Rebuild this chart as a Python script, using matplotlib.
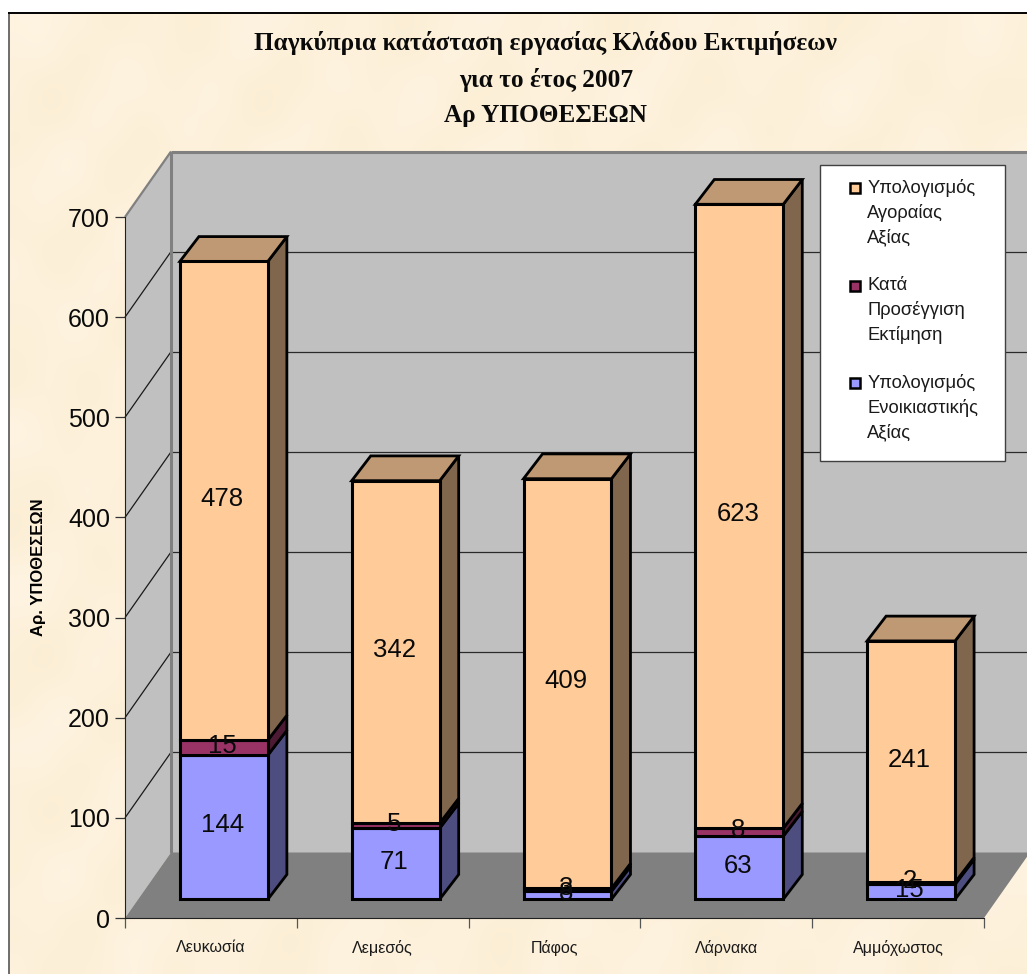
import numpy as np
import matplotlib
matplotlib.use("Agg")
import matplotlib.pyplot as plt
from matplotlib.patches import Polygon, Rectangle, Patch
from matplotlib.transforms import Affine2D
from matplotlib.legend_handler import HandlerPatch

categories = ["Λευκωσία", "Λεμεσός", "Πάφος", "Λάρνακα", "Αμμόχωστος"]
rental = [144, 71, 8, 63, 15]
approx = [15, 5, 3, 8, 2]
market = [478, 342, 409, 623, 241]
series_names = ["Υπολογισμός\nΑγοραίας\nΑξίας", "Κατά\nΠροσέγγιση\nΕκτίμηση", "Υπολογισμός\nΕνοικιαστικής\nΑξίας"]
title = "Παγκύπρια κατάσταση εργασίας Κλάδου Εκτιμήσεων\nγια το έτος 2007\nΑρ ΥΠΟΘΕΣΕΩΝ"
ylabel = "Αρ. ΥΠΟΘΕΣΕΩΝ"
yticks = [0, 100, 200, 300, 400, 500, 600, 700]

W, H = 1027, 974
plt.rcParams['font.family'] = ['Liberation Sans', 'DejaVu Sans']
fig = plt.figure(figsize=(W / 100, H / 100), dpi=100, facecolor='white')

# parchment backdrop (decorative)
bg = fig.add_axes([0, 0, 1, 1], zorder=0)
bg.set_xlim(0, W); bg.set_ylim(H, 0); bg.axis('off')
yy, xx = np.mgrid[0:H:24, 0:W:24]
tex = (np.sin(xx / 37 + 1) * np.cos(yy / 23) + np.sin(xx / 17 + yy / 29) + 0.6 * np.cos(xx / 11 - yy / 13)) / 2.6
col0 = np.array([253, 241, 219]) / 255
col1 = np.array([2.0, 4.0, 9.0]) / 255
img = np.clip(col0[None, None, :] + tex[:, :, None] * col1[None, None, :], 0, 1)
bg.imshow(img, extent=(9, W, H, 13), aspect='auto', interpolation='bicubic', zorder=0)
bg.set_xlim(0, W); bg.set_ylim(H, 0)
bg.plot([9, 9], [13, H], color='#555555', lw=1.2, zorder=1)
bg.plot([9, W], [13, 13], color='black', lw=1.4, zorder=1)

# main axes = front plane of the 3-D box
AX_W = 859
ax = fig.add_axes([125 / W, (H - 918) / H, AX_W / W, 701 / H], zorder=1)
ax.patch.set_visible(False)
ax.set_xlim(-0.5, 4.5)
ax.set_ylim(0, 700)
ax.set_autoscale_on(False)

BACK = (46, 65.5)       # depth of box in pixels
BAR_F = (13, 18.7)      # bar front offset
BAR_B = (32, 43.5)      # bar back offset
WIDTH = 0.512
ID = matplotlib.transforms.IdentityTransform()


def pt(x, y, d=(0, 0)):
    px, py = ax.transData.transform((x, y))
    return (px + d[0], py + d[1])


def poly(points, **kw):
    p = Polygon(points, closed=True, clip_on=False, **kw)
    p.set_transform(ID)
    ax.add_patch(p)
    return p


def line(a, b, **kw):
    ax.plot([a[0], b[0]], [a[1], b[1]], transform=ID,
            clip_on=False, solid_capstyle='butt', **kw)


# walls
poly([pt(-0.5, 0, BACK), pt(4.5, 0, BACK), pt(4.5, 700, BACK), pt(-0.5, 700, BACK)],
     facecolor='#C0C0C0', edgecolor='none', zorder=1)
poly([pt(-0.5, 0), pt(-0.5, 0, BACK), pt(-0.5, 700, BACK), pt(-0.5, 700)],
     facecolor='#C0C0C0', edgecolor='none', zorder=1)
poly([pt(-0.5, 0), pt(4.5, 0), pt(4.5, 0, BACK), pt(-0.5, 0, BACK)],
     facecolor='#808080', edgecolor='none', zorder=1)
for v in yticks[1:-1]:
    line(pt(-0.5, v), pt(-0.5, v, BACK), color='#1a1a1a', lw=0.9, zorder=2)
    line(pt(-0.5, v, BACK), pt(4.5, v, BACK), color='#2a2a2a', lw=0.9, zorder=2)
line(pt(-0.5, 700), pt(-0.5, 700, BACK), color='#808080', lw=1.6, zorder=2)
line(pt(-0.5, 700, BACK), pt(4.5, 700, BACK), color='#808080', lw=2.2, zorder=2)
line(pt(-0.5, 0, BACK), pt(-0.5, 700, BACK), color='#808080', lw=2.2, zorder=2)

# bars
x = np.arange(len(categories))
rental_a, approx_a, market_a = map(np.array, (rental, approx, market))
front = ax.transData + Affine2D().translate(BAR_F[0], BAR_F[1])
label_tf = ax.transData + Affine2D().translate(BAR_F[0] - 1.5, BAR_F[1] + 2.0)
stack = [
    (rental_a, np.zeros(5), '#9999FF', '#4D4D80', None),
    (approx_a, rental_a, '#993366', '#4D1A33', None),
    (market_a, rental_a + approx_a, '#FFCC99', '#7F664D', '#BF9973'),
]
for vals, base, fc, side, top in stack:
    ax.bar(x, vals, WIDTH, bottom=base, color=fc, edgecolor='black', linewidth=2.2,
           transform=front, zorder=4, clip_on=False)
    for xi, v, b in zip(x, vals, base):
        r = xi + WIDTH / 2
        l = xi - WIDTH / 2
        poly([pt(r, b, BAR_F), pt(r, b, BAR_B), pt(r, b + v, BAR_B), pt(r, b + v, BAR_F)],
             facecolor=side, edgecolor='black', linewidth=2.0, joinstyle='miter', zorder=3)
        if top:
            poly([pt(l, b + v, BAR_F), pt(r, b + v, BAR_F), pt(r, b + v, BAR_B), pt(l, b + v, BAR_B)],
                 facecolor=top, edgecolor='black', linewidth=2.0, joinstyle='miter', zorder=3)
        ax.text(xi, b + v / 2, str(v), transform=label_tf, ha='center', va='center',
                fontsize=18.5, color='#0a0a0a', zorder=6)

# axes furniture
for s in ('top', 'right'):
    ax.spines[s].set_visible(False)
ax.spines['left'].set_color('#202020')
ax.spines['bottom'].set_color('#202020')
ax.spines['left'].set_zorder(5)
ax.spines['bottom'].set_zorder(5)
ax.set_yticks(yticks)
ax.tick_params(axis='y', labelsize=18, length=7.2, width=0.9, color='#333333', pad=3.6, labelcolor='#0a0a0a')
ax.set_xticks(np.arange(-0.5, 5))
ax.set_xticklabels([])
ax.tick_params(axis='x', which='major', length=7.5, width=0.9, color='#555555')
ax.set_xticks(x, minor=True)
ax.set_xticklabels(categories, minor=True, fontsize=11.5)
ax.tick_params(axis='x', which='minor', length=0, pad=16, labelcolor='#1a1a1a')
ax.set_ylabel(ylabel, fontsize=12, fontweight='bold')
ax.yaxis.set_label_coords((46 - 125) / AX_W, 0.5)

# title
fig.suptitle(title, x=546 / W, y=1 - 31 / H, va='top', ha='center', fontsize=18.2,
             fontweight='bold', family=['Liberation Serif', 'DejaVu Serif'], linespacing=1.67, color='#0a0a0a')

# legend
ax.add_patch(Rectangle((820, H - 461), 185, 296, transform=ID,
                       facecolor='white', edgecolor='#404040', lw=1.0, zorder=7, clip_on=False))
legend_handles = [Patch(facecolor=c, edgecolor='black', linewidth=1.8) for c in ('#FFCC99', '#993366', '#9999FF')]


def first_line_square(legend, orig_handle, xdescent, ydescent, width, height, fontsize):
    return Rectangle((-xdescent, -ydescent + 18.2), 7.2, 7.2)


leg = ax.legend(legend_handles, series_names, loc='upper left',
                bbox_to_anchor=(849.5 / W, 1 - 179 / H), bbox_transform=fig.transFigure,
                frameon=False, fontsize=13.2, borderpad=0, borderaxespad=0,
                handlelength=0.55, handleheight=0.55, handletextpad=0.43, labelspacing=1.67,
                handler_map={Patch: HandlerPatch(patch_func=first_line_square)})
leg.set_zorder(8)
for t in leg.get_texts():
    t.set_linespacing(1.49)
    t.set_color('#1a1a1a')

fig.savefig('out.png', dpi=100)
